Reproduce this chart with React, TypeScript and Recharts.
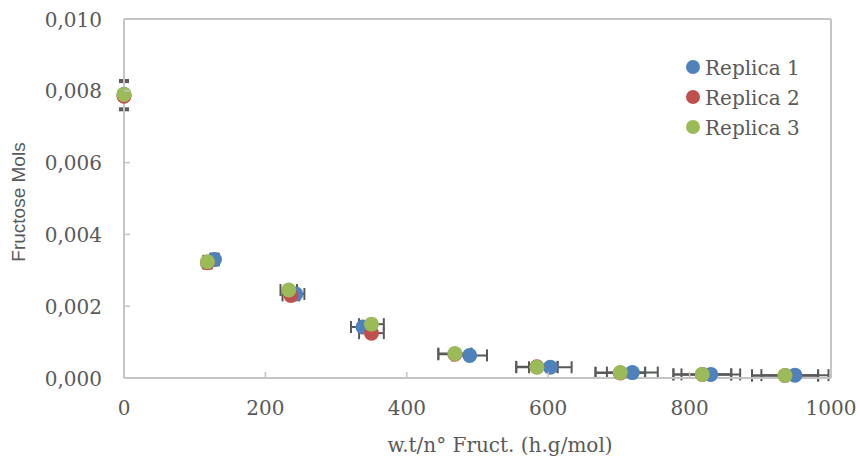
import React from "react"
import { ScatterChart, Scatter, XAxis, YAxis, ErrorBar, ReferenceLine, Legend, Label } from "recharts"

// values
const xTicks = [0, 200, 400, 600, 800, 1000]
const yTicks = [0, 0.002, 0.004, 0.006, 0.008, 0.01]

const seriesNames = ["Replica 1", "Replica 2", "Replica 3"]
const seriesColors = ["#4F81BD", "#C0504D", "#9BBB59"]

const xReplica1 = [0, 128, 243, 338, 489, 603, 719, 830, 949]
const yReplica1 = [0.0079, 0.0033, 0.00234, 0.00142, 0.00063, 0.0003, 0.00015, 0.0001, 0.00008]
const xReplica2 = [0, 118, 236, 350, 468, 584, 702, 818, 935]
const yReplica2 = [0.00785, 0.00321, 0.0023, 0.00125, 0.00066, 0.00031, 0.00014, 0.0001, 0.00007]
const xReplica3 = [0, 118, 233, 350, 468, 584, 702, 818, 935]
const yReplica3 = [0.0079, 0.00324, 0.00245, 0.0015, 0.00068, 0.0003, 0.00015, 0.0001, 0.00007]

// excel style percentage error bars (5%)
const errPct = 0.05

const toRows = (xs: number[], ys: number[]) =>
  xs.map((x, i) => ({ x, y: ys[i], ex: x * errPct, ey: ys[i] * errPct }))

const series = [
  toRows(xReplica1, yReplica1),
  toRows(xReplica2, yReplica2),
  toRows(xReplica3, yReplica3),
]

const serif = "'DejaVu Serif', serif"
const textGray = "#595959"
const axisGray = "#C4C4C4"

const fmtY = (v: number) => v.toFixed(3).replace(".", ",")

const YTick = (props: any) => {
  const { x, y, payload } = props
  return (
    <g>
      {payload.value !== 0 && payload.value !== 0.01 && (
        <line x1={x + 22} x2={x + 28} y1={y} y2={y} stroke={axisGray} strokeWidth={1.5} />
      )}
      <text x={x} y={y + 7.5} textAnchor="end" fill={textGray} fontFamily={serif} fontSize={20}>
        {fmtY(payload.value)}
      </text>
    </g>
  )
}

const XTick = (props: any) => {
  const { x, y, payload } = props
  return (
    <g>
      {payload.value !== 0 && payload.value !== 1000 && (
        <line x1={x} x2={x} y1={y - 6} y2={y} stroke={axisGray} strokeWidth={1.5} />
      )}
      <text x={x} y={y + 37} textAnchor="middle" fill={textGray} fontFamily={serif} fontSize={20}>
        {payload.value}
      </text>
    </g>
  )
}

const LegendBox = () => (
  <svg width={130} height={95}>
    {seriesNames.map((name, i) => (
      <g key={name}>
        <circle cx={8} cy={12 + i * 30} r={7} fill={seriesColors[i]} />
        <text x={20} y={19.5 + i * 30} fill={textGray} fontFamily={serif} fontSize={20}>
          {name}
        </text>
      </g>
    ))}
  </svg>
)

export default function App() {
  return (
    <div style={{ position: "absolute", left: 0, top: 0, width: 860, height: 461, background: "#fff" }}>
      <ScatterChart width={860} height={461} margin={{ top: 19, right: 29, bottom: 0, left: 0 }}>
        <XAxis
          type="number"
          dataKey="x"
          domain={[0, 1000]}
          ticks={xTicks}
          height={83}
          tickLine={false}
          tickSize={0}
          tickMargin={0}
          tick={<XTick />}
          axisLine={{ stroke: axisGray, strokeWidth: 2 }}
        >
          <Label
            content={() => (
              <text x={500} y={452} textAnchor="middle" fill={textGray} fontFamily={serif} fontSize={20}>
                w.t/n° Fruct. (h.g/mol)
              </text>
            )}
          />
        </XAxis>
        <YAxis
          type="number"
          dataKey="y"
          domain={[0, 0.01]}
          ticks={yTicks}
          width={124}
          tickLine={false}
          tickSize={0}
          tickMargin={22}
          tick={<YTick />}
          axisLine={{ stroke: axisGray, strokeWidth: 2 }}
        >
          <Label
            content={() => (
              <text
                x={18}
                y={202}
                transform="rotate(-90 18 202)"
                textAnchor="middle"
                dominantBaseline="central"
                fill={textGray}
                fontFamily="'Liberation Sans Narrow', 'Arial Narrow', sans-serif"
                fontSize={19}
              >
                Fructose Mols
              </text>
            )}
          />
        </YAxis>
        <ReferenceLine y={0.01} stroke={axisGray} strokeWidth={2} />
        <ReferenceLine x={1000} stroke={axisGray} strokeWidth={2} />
        {series.map((rows, i) => (
          <Scatter
            key={seriesNames[i]}
            name={seriesNames[i]}
            data={rows}
            fill={seriesColors[i]}
            isAnimationActive={false}
            shape={(p: any) => <circle cx={p.cx} cy={p.cy} r={7.5} fill={seriesColors[i]} />}
          >
            <ErrorBar dataKey="ex" direction="x" width={6} stroke="#595959" strokeWidth={2} />
            <ErrorBar dataKey="ey" direction="y" width={5} stroke="#595959" strokeWidth={2} />
          </Scatter>
        ))}
        <Legend
          layout="vertical"
          align="center"
          verticalAlign="middle"
          content={<LegendBox />}
          wrapperStyle={{ position: "absolute", left: 685, top: 55, width: 130, height: 95 }}
        />
      </ScatterChart>
    </div>
  )
}
